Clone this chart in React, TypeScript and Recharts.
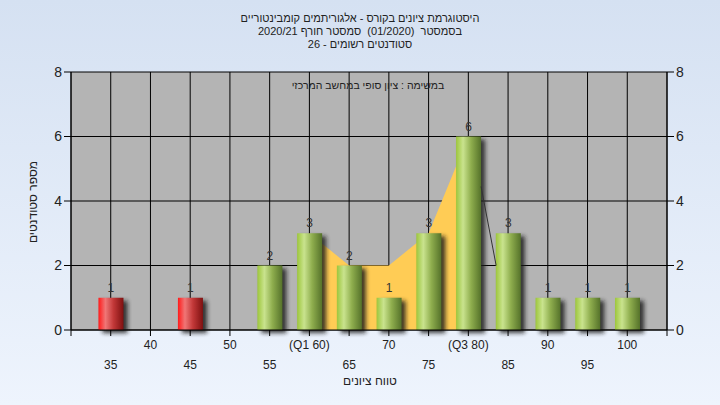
import {
  ComposedChart,
  Bar,
  Area,
  Line,
  XAxis,
  YAxis,
  CartesianGrid,
  LabelList,
} from 'recharts';

const scores = [35, 40, 45, 50, 55, 60, 65, 70, 75, 80, 85, 90, 95, 100];
const counts = [1, 0, 1, 0, 2, 3, 2, 1, 3, 6, 3, 1, 1, 1];

// interquartile band (Q1..Q3) drawn behind the bars
const bandScores = [60, 65, 70, 75, 80];
const bandValues = [3, 2, 2, 3, 6];

// thin dark edge on the right of the band
const edgeScores = [81.6, 83.5];
const edgeValues = [4.45, 2];

const tickValues = [30, 35, 40, 45, 50, 55, 60, 65, 70, 75, 80, 85, 90, 95, 100, 105];
const tickLabels = ['', '35', '40', '45', '50', '55', '(Q1 60)', '65', '70', '75', '(Q3 80)', '85', '90', '95', '100', ''];
const yTicks = [0, 2, 4, 6, 8];

const titleLines = [
  'היסטוגרמת ציונים בקורס - אלגוריתמים קומבינטוריים',
  'בסמסטר  (01/2020)  סמסטר חורף 2020/21',
  'סטודנטים רשומים - 26',
];
const subTitle = 'במשימה : ציון סופי במחשב המרכזי';
const xTitle = 'טווח ציונים';
const yTitle = 'מספר סטודנטים';

const passMark = 55;
const barW = 25;

const data = scores.map((score, i) => ({ score, count: counts[i] }));
const bandData = bandScores.map((score, i) => ({ score, v: bandValues[i] }));
const edgeData = edgeScores.map((score, i) => ({ score, v: edgeValues[i] }));

const font = '"Liberation Sans", Arial, sans-serif';
const textColor = '#222';

const XTick = ({ x, y, payload }: any) => {
  const idx = tickValues.indexOf(payload.value);
  const label = tickLabels[idx];
  if (!label) return null;
  const lower = idx % 2 === 1;
  return (
    <text
      x={x}
      y={y + (lower ? 31 : 11)}
      textAnchor="middle"
      fontSize={12}
      fontFamily={font}
      fill={textColor}
    >
      {label}
    </text>
  );
};

// draws a fixed-width bar centred on the slot recharts gives us
const BarShape = (props: any) => {
  const { x, y, width, height, payload } = props;
  if (!height || height <= 0) return null;
  const fail = payload.score < passMark;
  const left = x + width / 2 - barW / 2;
  return (
    <g>
      <rect
        x={left + 4}
        y={y + 3}
        width={barW}
        height={height}
        fill="#1a1a1a"
        opacity={0.85}
        filter="url(#barShadow)"
      />
      <rect
        x={left}
        y={y}
        width={barW}
        height={height}
        fill={fail ? 'url(#gRed)' : 'url(#gGreen)'}
      />
    </g>
  );
};

const renderCount = (props: any) => {
  const { x, y, width, value } = props;
  if (!value) return null;
  return (
    <text
      x={x + width / 2}
      y={y - 6}
      textAnchor="middle"
      fontSize={12}
      fontFamily={font}
      fill="#333"
    >
      {value}
    </text>
  );
};

export default function App() {
  return (
    <div
      style={{
        position: 'absolute',
        left: 0,
        top: 0,
        width: 720,
        height: 405,
        background: 'linear-gradient(#D5E1F2, #EEF4FD)',
        fontFamily: font,
      }}
    >
      <ComposedChart
        width={720}
        height={405}
        data={data}
        margin={{ top: 72, right: 0, left: 0, bottom: 0 }}
      >
        <defs>
          <linearGradient id="gGreen" x1="0" y1="0" x2="1" y2="0">
            <stop offset="0%" stopColor="#9DC63C" />
            <stop offset="28%" stopColor="#C9E38E" />
            <stop offset="60%" stopColor="#8FAE4E" />
            <stop offset="100%" stopColor="#55722A" />
          </linearGradient>
          <linearGradient id="gRed" x1="0" y1="0" x2="1" y2="0">
            <stop offset="0%" stopColor="#FF1A1A" />
            <stop offset="28%" stopColor="#F07676" />
            <stop offset="60%" stopColor="#C23838" />
            <stop offset="100%" stopColor="#7E1010" />
          </linearGradient>
          <filter id="barShadow" x="-50%" y="-50%" width="200%" height="200%">
            <feGaussianBlur stdDeviation="2" />
          </filter>
        </defs>
        <CartesianGrid
          stroke="#000"
          fill="#B4B4B4"
          fillOpacity={1}
          yAxisId="left"
        />
        <XAxis
          dataKey="score"
          type="number"
          domain={[30, 105]}
          ticks={tickValues}
          interval={0}
          allowDataOverflow
          height={75}
          tickSize={6}
          stroke="#000"
          tick={<XTick />}
        />
        <YAxis
          yAxisId="left"
          domain={[0, 8]}
          ticks={yTicks}
          width={71}
          tickSize={7}
          stroke="#000"
          tick={{ fontSize: 14, fill: textColor, fontFamily: font }}
        />
        <YAxis
          yAxisId="right"
          orientation="right"
          domain={[0, 8]}
          ticks={yTicks}
          width={53}
          tickSize={7}
          stroke="#000"
          tick={{ fontSize: 14, fill: textColor, fontFamily: font }}
        />
        <Area
          yAxisId="left"
          data={bandData}
          dataKey="v"
          type="linear"
          fill="#FFCC55"
          fillOpacity={1}
          stroke="none"
          isAnimationActive={false}
        />
        <Line
          yAxisId="right"
          data={edgeData}
          dataKey="v"
          type="linear"
          stroke="#333"
          strokeWidth={1}
          dot={false}
          isAnimationActive={false}
        />
        <Bar
          yAxisId="left"
          dataKey="count"
          shape={<BarShape />}
          isAnimationActive={false}
        >
          <LabelList dataKey="count" content={renderCount} />
        </Bar>
      </ComposedChart>

      <div
        style={{
          position: 'absolute',
          left: 0,
          top: 12,
          width: 720,
          textAlign: 'center',
          fontSize: 11,
          lineHeight: '13px',
          color: textColor,
          direction: 'rtl',
          whiteSpace: 'pre',
        }}
      >
        {titleLines.map((t) => (
          <div key={t}>{t}</div>
        ))}
      </div>
      <div
        style={{
          position: 'absolute',
          left: 268,
          top: 79,
          width: 200,
          textAlign: 'center',
          fontSize: 10.5,
          color: textColor,
          direction: 'rtl',
          whiteSpace: 'nowrap',
        }}
      >
        {subTitle}
      </div>
      <div
        style={{
          position: 'absolute',
          left: 0,
          top: 374,
          width: 740,
          textAlign: 'center',
          fontSize: 12,
          color: textColor,
          direction: 'rtl',
        }}
      >
        {xTitle}
      </div>
      <div
        style={{
          position: 'absolute',
          left: 33,
          top: 202,
          fontSize: 12,
          color: textColor,
          direction: 'rtl',
          whiteSpace: 'nowrap',
          transform: 'translate(-50%, -50%) rotate(-90deg)',
        }}
      >
        {yTitle}
      </div>
    </div>
  );
}
